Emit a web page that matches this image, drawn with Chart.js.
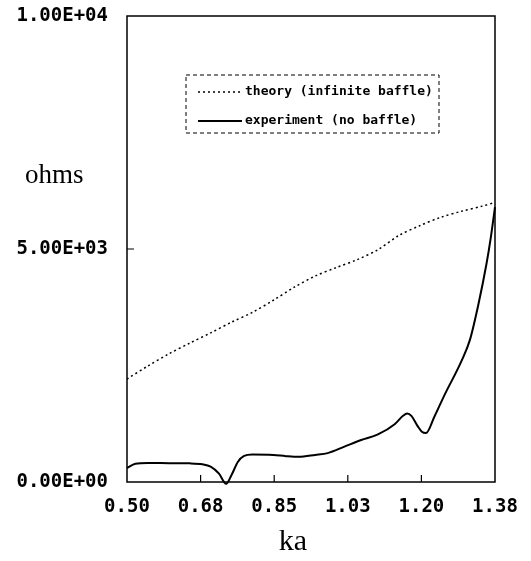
<!DOCTYPE html>
<html>
<head>
<meta charset="utf-8">
<script src="https://cdn.jsdelivr.net/npm/chart.js@4/dist/chart.umd.min.js"></script>
<style>
  body { margin: 0; background: #fff; }
  #wrap { position: relative; width: 531px; height: 561px; }
</style>
</head>
<body>
<div id="wrap"><canvas id="kaChart" width="531" height="561"></canvas></div>
<script>
// x ticks (ka) and their printed labels
const xTicks = [0.50, 0.676, 0.852, 1.028, 1.204, 1.38];
const xTickLabels = ['0.50', '0.68', '0.85', '1.03', '1.20', '1.38'];
const yTicks = [0, 5000, 10000];
const yTickLabels = ['0.00E+00', '5.00E+03', '1.00E+04'];

// theory (infinite baffle)
const theoryKa = [0.50, 0.55, 0.60, 0.65, 0.70, 0.75, 0.80, 0.85, 0.90, 0.95, 1.00, 1.05, 1.10, 1.15, 1.20, 1.25, 1.30, 1.35, 1.38];
const theoryOhms = [2210, 2490, 2750, 2980, 3200, 3430, 3640, 3900, 4180, 4420, 4600, 4770, 4985, 5290, 5500, 5680, 5810, 5920, 6000];

// experiment (no baffle)
const expKa = [0.50, 0.52, 0.55, 0.60, 0.65, 0.68, 0.70, 0.72, 0.737, 0.75, 0.765, 0.78, 0.80, 0.85, 0.88, 0.91, 0.95, 0.98, 1.02, 1.06, 1.10, 1.14, 1.16, 1.17, 1.18, 1.195, 1.205, 1.215, 1.235, 1.26, 1.30, 1.32, 1.34, 1.36, 1.37, 1.38];
const expOhms = [300, 390, 410, 405, 400, 380, 330, 180, -40, 150, 430, 560, 590, 580, 555, 540, 580, 620, 760, 900, 1020, 1240, 1420, 1470, 1420, 1200, 1080, 1050, 1400, 1880, 2600, 3050, 3800, 4700, 5250, 5900];

const monoFont = '"DejaVu Sans Mono", monospace';
const serifFont = '"Liberation Serif", "Times New Roman", serif';

function pairUp(xs, ys) {
    return xs.map((x, i) => ({ x: x, y: ys[i] }));
}

// box round the plot, inward ticks, axis names and the dashed legend box
const framePlugin = {
    id: 'frame',
    afterDraw(chart) {
        const ctx = chart.ctx;
        const a = chart.chartArea;
        const xs = chart.scales.x;
        const ys = chart.scales.y;
        ctx.save();
        ctx.strokeStyle = '#000';
        ctx.lineWidth = 1.5;
        ctx.strokeRect(a.left, a.top, a.right - a.left, a.bottom - a.top);

        ctx.lineWidth = 1.2;
        ctx.beginPath();
        xTicks.slice(1, -1).forEach(v => {
            const px = xs.getPixelForValue(v);
            ctx.moveTo(px, a.bottom);
            ctx.lineTo(px, a.bottom - 7);
        });
        yTicks.slice(1, -1).forEach(v => {
            const py = ys.getPixelForValue(v);
            ctx.moveTo(a.left, py);
            ctx.lineTo(a.left + 7, py);
        });
        ctx.stroke();

        ctx.fillStyle = '#000';
        ctx.font = '27px ' + serifFont;
        ctx.textAlign = 'left';
        ctx.textBaseline = 'alphabetic';
        ctx.fillText('ohms', 25, 183);
        ctx.font = '30px ' + serifFont;
        ctx.textAlign = 'center';
        ctx.fillText('ka', 293, 550);

        // legend
        const lx = 186, ly = 75, lw = 253, lh = 58;
        ctx.textAlign = 'left';
        ctx.lineWidth = 1;
        ctx.setLineDash([4, 3]);
        ctx.strokeRect(lx, ly, lw, lh);
        ctx.font = 'bold 13px ' + monoFont;
        ctx.textBaseline = 'middle';
        chart.data.datasets.forEach((ds, i) => {
            const rowY = ly + 17 + i * 29;
            ctx.setLineDash(ds.borderDash || []);
            ctx.lineWidth = ds.borderWidth;
            ctx.beginPath();
            ctx.moveTo(lx + 12, rowY);
            ctx.lineTo(lx + 56, rowY);
            ctx.stroke();
            ctx.fillText(ds.label, lx + 59, rowY);
        });
        ctx.restore();
    }
};

const ctx = document.getElementById('kaChart').getContext('2d');
new Chart(ctx, {
    type: 'line',
    data: {
        datasets: [{
            label: 'theory (infinite baffle)',
            data: pairUp(theoryKa, theoryOhms),
            borderColor: '#000',
            borderWidth: 1.5,
            borderDash: [2, 3],
            pointRadius: 0,
            tension: 0.3,
            fill: false
        }, {
            label: 'experiment (no baffle)',
            data: pairUp(expKa, expOhms),
            borderColor: '#000',
            borderWidth: 2,
            pointRadius: 0,
            cubicInterpolationMode: 'monotone',
            fill: false,
            clip: false
        }]
    },
    options: {
        responsive: false,
        animation: false,
        layout: { padding: { left: 0, top: 16, right: 36, bottom: 0 } },
        plugins: {
            legend: { display: false },
            tooltip: { enabled: false }
        },
        scales: {
            x: {
                type: 'linear',
                min: 0.5,
                max: 1.38,
                afterBuildTicks: s => { s.ticks = xTicks.map(v => ({ value: v })); },
                afterFit: s => { s.height = 79; s.paddingLeft = 0; s.paddingRight = 0; },
                grid: { display: false, drawTicks: false },
                border: { display: false },
                ticks: {
                    color: '#000',
                    padding: 14,
                    maxRotation: 0,
                    font: { family: monoFont, size: 19, weight: 'bold' },
                    callback: (v, i) => xTickLabels[i]
                }
            },
            y: {
                min: 0,
                max: 10000,
                afterBuildTicks: s => { s.ticks = yTicks.map(v => ({ value: v })); },
                afterFit: s => { s.width = 127; s.paddingTop = 0; s.paddingBottom = 0; },
                grid: { display: false, drawTicks: false },
                border: { display: false },
                ticks: {
                    color: '#000',
                    padding: 19,
                    font: { family: monoFont, size: 19, weight: 'bold' },
                    callback: (v, i) => yTickLabels[i]
                }
            }
        }
    },
    plugins: [framePlugin]
});
</script>
</body>
</html>
